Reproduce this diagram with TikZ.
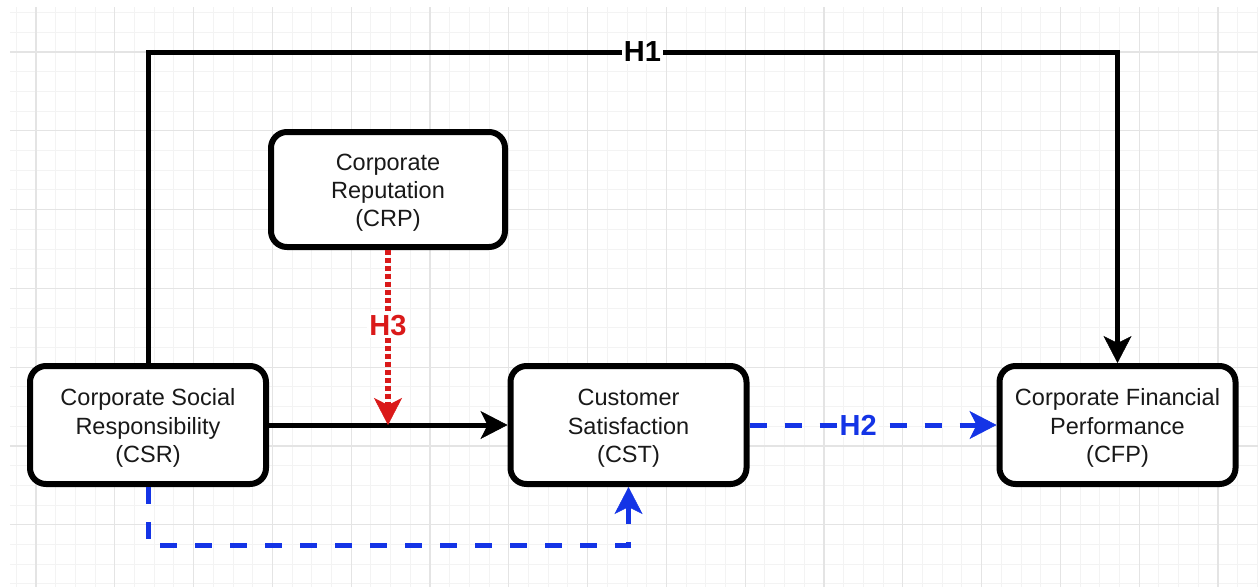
\documentclass[tikz,border=0pt]{standalone}
\usepackage{fontspec}
\setmainfont{Liberation Sans}
\usetikzlibrary{arrows.meta}
\definecolor{dblue}{RGB}{20,52,230}
\definecolor{dred}{RGB}{218,26,26}
\definecolor{gridminor}{RGB}{243,243,243}
\definecolor{gridmajor}{RGB}{228,228,228}
\newcommand{\topstrut}{\rule{0pt}{23pt}}
\tikzset{
  box/.style={draw=black, fill=white, line width=6pt, rounded corners=16pt,
    minimum width=236pt, minimum height=118pt, align=center,
    font=\fontsize{23.5}{28.2}\selectfont, text=black!90},
  conn/.style={draw=black, line width=5pt},
  tipend/.style={-{Stealth[length=27pt,width=28pt,inset=7pt,line width=0.5pt]}},
  bluedash/.style={draw=dblue, line width=5pt, dash pattern=on 17pt off 18pt},
  reddot/.style={draw=dred, line width=5.5pt, dash pattern=on 5pt off 3pt},
  hlabel/.style={fill=white, inner sep=2pt, font=\bfseries\fontsize{29}{30}\selectfont}
}
\begin{document}
\begin{tikzpicture}[x=1pt,y=-1pt]
\useasboundingbox (0,0) rectangle (1258,587);
\fill[white] (0,0) rectangle (1258,587);
% grid
\begin{scope}
\clip (10,7) rectangle (1258,587);
\foreach \i in {-2,...,64} {
  \draw[gridminor, line width=1pt] ({36+\i*19.7},7) -- ({36+\i*19.7},587);
}
\foreach \j in {-3,...,28} {
  \draw[gridminor, line width=1pt] (10,{52+\j*19.7}) -- (1258,{52+\j*19.7});
}
\foreach \i in {0,...,15} {
  \draw[gridmajor, line width=1.2pt] ({36+\i*78.8},7) -- ({36+\i*78.8},587);
}
\foreach \j in {0,...,6} {
  \draw[gridmajor, line width=1.2pt] (10,{52+\j*78.8}) -- (1258,{52+\j*78.8});
}
\end{scope}
% nodes
\node[box] (CSR) at (148,425) {\topstrut Corporate Social\\Responsibility\\(CSR)};
\node[box] (CST) at (628.5,425) {\topstrut Customer\\Satisfaction\\(CST)};
\node[box] (CFP) at (1117.5,425) {\topstrut Corporate Financial\\Performance\\(CFP)};
\node[box, minimum width=234pt, minimum height=115pt] (CRP) at (388,189.5) {\topstrut Corporate\\Reputation\\(CRP)};
\coordinate (topline) at (0,52);
\coordinate (botline) at (0,545);
\coordinate (meet) at (CRP.south |- CSR.east);
% H1
\draw[conn, tipend] (CSR.north) -- (CSR.north |- topline) -- node[hlabel, pos=0.51] {H1} (CFP.north |- topline) -- (CFP.north);
% CSR -> CST
\draw[conn, tipend] (CSR.east) -- (CST.west);
% H3
\draw[reddot, tipend] (CRP.south) -- node[hlabel, text=dred, pos=0.43] {H3} (meet);
% H2
\draw[bluedash, tipend] (CST.east) -- node[hlabel, text=dblue, pos=0.44] {H2} (CFP.west);
% CSR -> CST bottom
\draw[bluedash, tipend] (CSR.south) -- (CSR.south |- botline) -| (CST.south);
\end{tikzpicture}
\end{document}
